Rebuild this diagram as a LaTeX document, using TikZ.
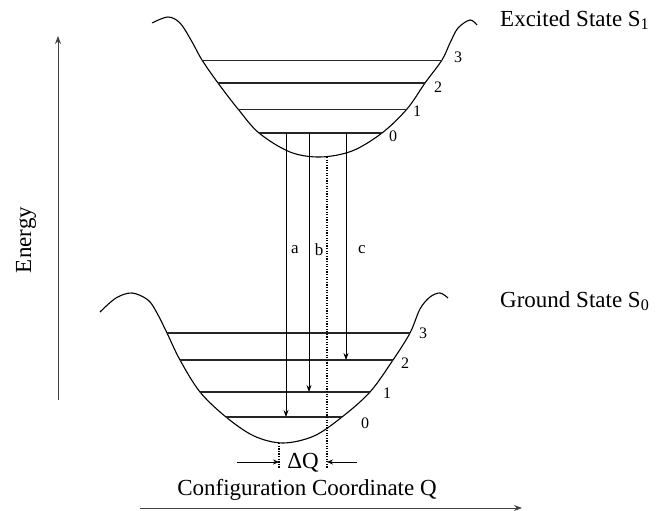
\documentclass[tikz,border=0pt]{standalone}
\usepackage{fontspec}
\setmainfont{Liberation Serif}
\usetikzlibrary{arrows.meta}
\begin{document}
\begin{tikzpicture}[x=1pt,y=-1pt,
  curve/.style={line width=1.1pt, line join=round},
  lvlthick/.style={line width=1.6pt, black!85},
  lvlthin/.style={line width=0.9pt, black!85},
  trans/.style={line width=0.7pt, -{Stealth[length=7pt,width=5pt]}},
  dq/.style={line width=0.7pt, -{Stealth[length=6pt,width=5pt]}},
  dotline/.style={line width=1.4pt, dash pattern=on 1.3pt off 1.3pt},
  axis/.style={line width=0.9pt, black!75, -{Stealth[length=8pt,width=6pt]}},
  big/.style={font=\fontsize{23}{26}\selectfont, inner sep=0pt},
  num/.style={font=\fontsize{16}{18}\selectfont, inner sep=0pt},
  lab/.style={font=\fontsize{17}{19}\selectfont, inner sep=0pt}]
\useasboundingbox (0,0) rectangle (657,511);
% excited state potential
\draw[curve] plot[smooth, tension=0.55] coordinates {(152,23) (168,17) (180,23) (191,40) (202,60) (218,83) (238,109) (259,133) (290,152) (320,157) (352,151) (382,133) (407,109) (425,83) (442,60) (450,43) (458,28) (470,20) (477,25)};
% ground state potential
\draw[curve] plot[smooth, tension=0.55] coordinates {(100,312) (116,298) (132,293) (148,300) (157,313) (167,333) (180,360) (200,392) (226,417) (254,436) (283,443) (314,436) (342,417) (370,392) (393,360) (410,333) (420,309) (430,297) (440,293) (448,298)};
% excited levels
\coordinate (e3l) at (202,60); \coordinate (e3r) at (442,60);
\coordinate (e2l) at (218,83); \coordinate (e2r) at (425,83);
\coordinate (e1l) at (238,109); \coordinate (e1r) at (407,109);
\coordinate (e0l) at (259,133); \coordinate (e0r) at (382,133);
\draw[lvlthin] (e3l) -- (e3r);
\draw[lvlthick] (e2l) -- (e2r);
\draw[lvlthin] (e1l) -- (e1r);
\draw[lvlthick] (e0l) -- (e0r);
% ground levels
\coordinate (g3l) at (167,333); \coordinate (g3r) at (410,333);
\coordinate (g2l) at (180,360); \coordinate (g2r) at (393,360);
\coordinate (g1l) at (200,392); \coordinate (g1r) at (370,392);
\coordinate (g0l) at (226,417); \coordinate (g0r) at (342,417);
\draw[lvlthick] (g3l) -- (g3r);
\draw[lvlthick] (g2l) -- (g2r);
\draw[lvlthick] (g1l) -- (g1r);
\draw[lvlthick] (g0l) -- (g0r);
% level numbers
\node[num] (ne3) at (458,57) {3};
\node[num] (ne2) at (438,87) {2};
\node[num] (ne1) at (417,111) {1};
\node[num] (ne0) at (393,136) {0};
\node[num] (ng3) at (423,333) {3};
\node[num] (ng2) at (405,363) {2};
\node[num] (ng1) at (387,393) {1};
\node[num] (ng0) at (365,423) {0};
% transitions
\coordinate (as) at (286,133); \coordinate (ae) at (286,417);
\coordinate (bs) at (309,133); \coordinate (be) at (309,392);
\coordinate (cs) at (346,133); \coordinate (ce) at (346,360);
\draw[trans] (as) -- (ae);
\draw[trans] (bs) -- (be);
\draw[trans] (cs) -- (ce);
\node[lab] (la) at (295,250) {a};
\node[lab] (lb) at (319,250) {b};
\node[lab] (lc) at (362,250) {c};
% dotted lines
\coordinate (d1s) at (327,157); \coordinate (d1e) at (327,468);
\coordinate (d2s) at (279,443); \coordinate (d2e) at (279,468);
\draw[dotline] (d1s) -- (d1e);
\draw[dotline] (d2s) -- (d2e);
% Delta Q
\coordinate (q1s) at (237,462); \coordinate (q1e) at (279,462);
\coordinate (q2s) at (357,462); \coordinate (q2e) at (327,462);
\draw[dq] (q1s) -- (q1e);
\draw[dq] (q2s) -- (q2e);
\node[big] (dQ) at (303,463) {ΔQ};
% axes
\coordinate (eb) at (58,400); \coordinate (et) at (58,36);
\draw[axis] (eb) -- (et);
\coordinate (cl) at (140,508); \coordinate (cr) at (522,508);
\draw[axis] (cl) -- (cr);
\node[big, rotate=90] (energy) at (26,240) {Energy};
\node[big] (config) at (307,490) {Configuration Coordinate Q};
% state labels
\node[big, anchor=west] (exc) at (500,20) {Excited State S\textsubscript{1}};
\node[big, anchor=west] (gnd) at (500,301) {Ground State S\textsubscript{0}};
\end{tikzpicture}
\end{document}
